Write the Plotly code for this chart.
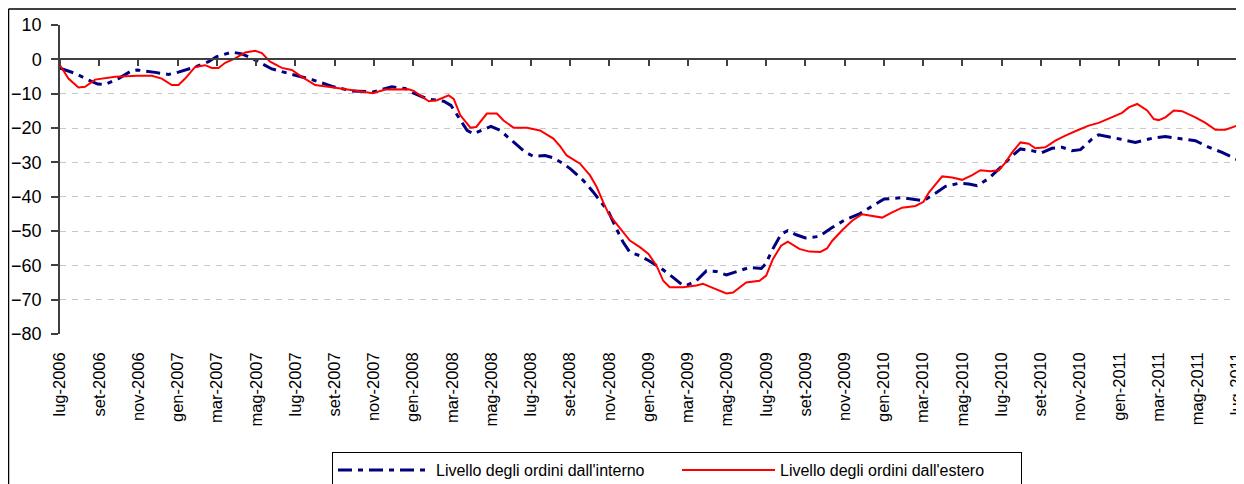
import plotly.graph_objects as go

# months since lug-2006
interno_m = [0, 0.77, 1.45, 1.92, 2.3, 2.98, 3.66, 3.95, 4.85, 5.53,
             6.0, 6.89, 7.57, 7.99, 8.76, 9.27, 9.95, 10.8, 11.65, 11.96,
             12.84, 13.95, 14.88, 15.95, 16.92, 17.6, 18.0, 18.71, 19.56, 19.93,
             20.32, 20.75, 21.08, 21.51, 21.97, 22.44, 23.12, 23.66, 24.14, 24.73,
             25.15, 25.66, 26.02, 26.68, 27.19, 27.53, 27.97, 28.37, 28.71, 29.05,
             29.56, 30.0, 30.58, 31.25, 31.76, 32.0, 32.44, 32.95, 33.46, 33.97,
             34.47, 35.15, 35.75, 35.97, 36.34, 36.76, 37.1, 37.53, 38.0, 38.68,
             39.36, 40.0, 40.72, 41.4, 42.01, 42.93, 44.02, 44.63, 45.14, 45.82,
             46.33, 46.75, 47.35, 48.03, 48.54, 48.96, 49.55, 50.01, 50.57, 51.08,
             51.59, 52.02, 52.61, 52.95, 53.63, 54.02, 54.82, 55.67, 56.35, 57.03,
             57.88, 58.56, 59.24, 60.0]
interno_v = [-2.6, -4.1, -6, -7.2, -7.3, -5.6, -3.3, -3.1, -3.8, -4.4,
             -3.8, -2.2, -0.7, 0.8, 2.1, 1.6, -0.2, -2.8, -4.1, -4.6,
             -5.9, -8, -9.2, -9.5, -8, -8.5, -9.8, -11.5, -12.2, -13.4,
             -16.8, -20.7, -21.7, -20.7, -19.5, -20.7, -24.1, -26.8, -28.3, -28,
             -28.7, -30.4, -31.9, -35.3, -38.7, -41.1, -44.5, -49.4, -53.3, -56.2,
             -57.2, -58.6, -60.6, -63.5, -65.9, -65.7, -64.5, -61.6, -61.8, -62.8,
             -61.8, -60.6, -60.9, -59.6, -55.2, -50.9, -49.9, -51.1, -52, -51.6,
             -49, -46.8, -45.1, -42.7, -40.7, -40.3, -41.2, -39, -37, -36.1,
             -36.3, -36.8, -34.7, -31, -28.1, -26.1, -26.6, -27.3, -25.9, -25.6,
             -26.6, -26.3, -23.2, -22, -22.7, -23.2, -24.2, -23, -22.5, -23,
             -23.7, -25.6, -27.1, -29.2]

estero_m = [0, 0.43, 0.94, 1.28, 1.79, 2.81, 3.95, 4.68, 5.19, 5.7,
            6.04, 6.38, 6.89, 7.4, 7.74, 8.08, 8.42, 8.93, 9.44, 9.95,
            10.29, 10.71, 11.31, 11.82, 12.33, 13.01, 13.95, 14.71, 15.95, 16.58,
            17.77, 18.03, 18.8, 19.22, 19.81, 20.07, 20.41, 20.92, 21.22, 21.76,
            22.27, 22.61, 23.12, 23.8, 24.47, 25.15, 25.49, 25.83, 26.51, 27.02,
            27.36, 27.69, 27.97, 28.37, 29.05, 29.56, 30.0, 30.41, 30.75, 31.08,
            31.76, 32.44, 32.78, 33.12, 33.63, 33.97, 34.31, 34.98, 35.66, 36.0,
            36.34, 36.76, 37.1, 37.69, 38.2, 38.76, 39.1, 39.36, 39.87, 40.38,
            40.89, 41.4, 41.91, 42.42, 42.93, 43.61, 44.02, 44.29, 44.63, 44.97,
            45.48, 45.99, 46.5, 46.92, 47.43, 47.86, 48.2, 48.54, 48.96, 49.38,
            49.72, 50.23, 50.74, 51.25, 51.93, 52.44, 52.95, 53.63, 54.14, 54.48,
            54.91, 55.42, 55.76, 56.01, 56.35, 56.78, 57.2, 57.88, 58.39, 58.9,
            59.41, 60.0]
estero_v = [-1.7, -5.6, -8.2, -8, -5.9, -5.1, -4.8, -4.8, -5.6, -7.5,
            -7.5, -5.6, -2.2, -1.7, -2.5, -2.5, -1, 0.3, 2, 2.5,
            1.8, -0.7, -2.5, -3.1, -5.1, -7.5, -8.2, -8.8, -9.9, -8.8,
            -8.7, -9.2, -12.2, -11.9, -10.5, -11.5, -16.3, -19.9, -19.7, -15.8,
            -15.8, -17.8, -19.9, -19.9, -20.7, -23.1, -25.3, -28, -30.4, -33.8,
            -37.2, -41.6, -45, -47.9, -52.8, -54.7, -56.7, -60.1, -64.5, -66.4,
            -66.4, -65.9, -65.4, -66.2, -67.4, -68.2, -67.9, -65, -64.5, -63,
            -58.2, -54.3, -53.1, -55.2, -56, -56.1, -55.1, -52.9, -49.8, -47,
            -45.1, -45.6, -46.1, -44.6, -43.2, -42.7, -41.5, -38.8, -36.3, -34.1,
            -34.4, -35.1, -33.7, -32.3, -32.6, -32.3, -30, -27.1, -24.2, -24.6,
            -25.9, -25.6, -23.7, -22.2, -20.5, -19.3, -18.5, -16.9, -15.6, -14,
            -13, -14.9, -17.4, -17.7, -16.9, -14.9, -15.1, -16.9, -18.5, -20.5,
            -20.5, -19.3]

tick_months = ["lug", "set", "nov", "gen", "mar", "mag"]
tick_pos = list(range(0, 61, 2))
tick_labels = []
for i, p in enumerate(tick_pos):
    mon = tick_months[i % 6]
    year = 2006 + (p + 6) // 12
    tick_labels.append(f"{mon}-{year}")

y_ticks = list(range(-80, 11, 10))

FONT = "Liberation Sans, Arial, sans-serif"
AXC = "#404040"

# page is offset by the 8px body margin; plot area target: x 60..1237, y 25..334
L, R, T, B = 52, 15, 17, 158
PW = 1244 - L - R
PH = 484 - T - B


def px_x(page_x):
    return (page_x - 8 - L) / PW


def px_y(page_y):
    return (484 - B - (page_y - 8)) / PH


fig = go.Figure()
fig.add_trace(go.Scatter(
    x=interno_m, y=interno_v, mode="lines",
    name="Livello degli ordini dall'interno",
    line=dict(color="#000080", width=3, dash="14px,6px,5px,6px"),
))
fig.add_trace(go.Scatter(
    x=estero_m, y=estero_v, mode="lines",
    name="Livello degli ordini dall'estero",
    line=dict(color="#FF0000", width=2),
))
# helper trace for the zero-line axis
fig.add_trace(go.Scatter(
    x=[0, 60], y=[0, 0], xaxis="x2", mode="lines",
    line=dict(color="rgba(0,0,0,0)", width=0),
    showlegend=False, hoverinfo="skip",
))

fig.update_layout(
    width=1244, height=484,
    margin=dict(l=L, r=R, t=T, b=B, autoexpand=False),
    paper_bgcolor="white", plot_bgcolor="white",
    font=dict(family=FONT, color="black"),
    xaxis=dict(
        range=[0, 60], tickmode="array", tickvals=tick_pos, ticktext=tick_labels,
        tickangle=-90, showgrid=False, zeroline=False, showline=False,
        ticks="", tickfont=dict(size=16.5, family=FONT), ticklabelstandoff=14,
        ticklabeloverflow="allow",
    ),
    xaxis2=dict(
        range=[0, 60], overlaying="x", anchor="free", position=80 / 90,
        side="bottom", tickmode="array", tickvals=tick_pos,
        showticklabels=False, showgrid=False, zeroline=False,
        showline=True, linecolor=AXC, linewidth=1.5,
        ticks="outside", ticklen=6, tickcolor=AXC, tickwidth=1.5,
    ),
    yaxis=dict(
        range=[-80, 10], tickmode="array", tickvals=y_ticks,
        showgrid=True, gridcolor="#c8c8c8", griddash="6px,6px", gridwidth=1,
        zeroline=False, showline=True, linecolor=AXC, linewidth=1.5,
        ticks="outside", ticklen=7, tickcolor=AXC, tickwidth=1.5,
        tickfont=dict(size=18, family=FONT), ticklabelstandoff=6,
    ),
    legend=dict(
        orientation="h", x=px_x(332), xanchor="left",
        y=px_y(452), yanchor="top",
        bordercolor="black", borderwidth=1, bgcolor="white",
        font=dict(size=16, family=FONT), entrywidth=236, entrywidthmode="pixels",
        itemwidth=93,
    ),
    shapes=[
        dict(type="line", xref="paper", yref="paper",
             x0=px_x(8.5), x1=px_x(8.5), y0=px_y(9), y1=px_y(500),
             line=dict(color="black", width=1.5)),
        dict(type="line", xref="paper", yref="paper",
             x0=px_x(8.5), x1=px_x(1270), y0=px_y(9), y1=px_y(9),
             line=dict(color="black", width=1.5)),
    ],
)

fig.write_html("out.html")
